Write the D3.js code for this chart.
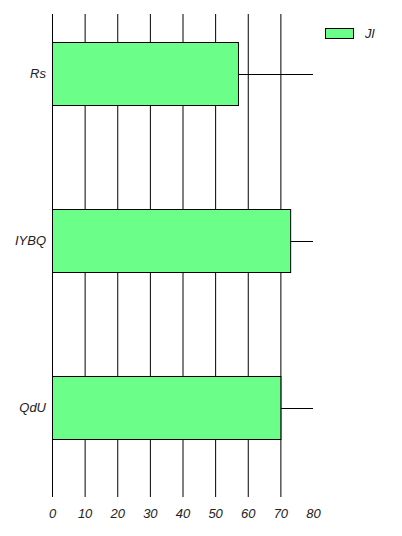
<!DOCTYPE html>
<html>
<head>
<meta charset="utf-8">
<script src="https://cdn.jsdelivr.net/npm/d3@7"></script>
<style>
  body { margin: 0; background: #fff; }
  text { font-family: "Liberation Sans", Arial, sans-serif; font-style: italic; fill: #222; }
</style>
</head>
<body>
<script>
// Data
const CATEGORIES = ["Rs", "IYBQ", "QdU"];
const VALUES     = [57, 73, 70];
const SERIES     = "Jl";
const TICKS      = [0, 10, 20, 30, 40, 50, 60, 70, 80];
const GRID       = [0, 10, 20, 30, 40, 50, 60, 70];

const W = 402, H = 536;
const FILL = "#6bff8a";

const svg = d3.select("body").append("svg")
  .attr("width", W)
  .attr("height", H);

// Scales
const x = d3.scaleLinear()
  .domain([0, 80])
  .range([52, 313]);

const y = d3.scaleBand()
  .domain(CATEGORIES)
  .range([-10, 491])
  .paddingInner(0.623)
  .paddingOuter(0.3115);

const gridTop = 14, gridBottom = 497;

// Vertical grid
svg.append("g")
  .selectAll("line")
  .data(GRID)
  .join("line")
    .attr("x1", d => x(d) + 0.5)
    .attr("x2", d => x(d) + 0.5)
    .attr("y1", gridTop)
    .attr("y2", gridBottom)
    .attr("stroke", "#000")
    .attr("stroke-width", 1);

// Horizontal lines through each category
svg.append("g")
  .selectAll("line")
  .data(CATEGORIES)
  .join("line")
    .attr("x1", x(0))
    .attr("x2", x(80))
    .attr("y1", d => Math.round(y(d) + y.bandwidth() / 2) + 0.5)
    .attr("y2", d => Math.round(y(d) + y.bandwidth() / 2) + 0.5)
    .attr("stroke", "#000")
    .attr("stroke-width", 1);

// Bars
svg.append("g")
  .selectAll("rect")
  .data(CATEGORIES)
  .join("rect")
    .attr("x", x(0) + 0.5)
    .attr("y", d => Math.round(y(d)) + 0.5)
    .attr("width", (d, i) => x(VALUES[i]) - x(0))
    .attr("height", Math.round(y.bandwidth()))
    .attr("fill", FILL)
    .attr("stroke", "#000")
    .attr("stroke-width", 1);

// Bottom axis labels
const xAxis = g => g
  .attr("transform", `translate(0, ${gridBottom + 12})`)
  .call(d3.axisBottom(x).tickValues(TICKS).tickSize(0).tickPadding(0))
  .call(g => g.select(".domain").remove())
  .call(g => g.selectAll("text")
    .attr("dy", "0.71em")
    .style("font-size", "13px"));
svg.append("g").call(xAxis);

// Left axis labels
const yAxis = g => g
  .attr("transform", `translate(${x(0) - 6}, 0)`)
  .call(d3.axisLeft(y).tickSize(0).tickPadding(0))
  .call(g => g.select(".domain").remove())
  .call(g => g.selectAll("text").style("font-size", "13px"));
svg.append("g").call(yAxis);

// Legend
const legend = svg.append("g").attr("transform", "translate(325, 28)");
legend.append("rect")
  .attr("x", 0.5).attr("y", 0.5)
  .attr("width", 28).attr("height", 10)
  .attr("fill", FILL)
  .attr("stroke", "#000");
legend.append("text")
  .attr("x", 40).attr("y", 5.5)
  .attr("dy", "0.35em")
  .style("font-size", "13px")
  .text(SERIES);
</script>
</body>
</html>
